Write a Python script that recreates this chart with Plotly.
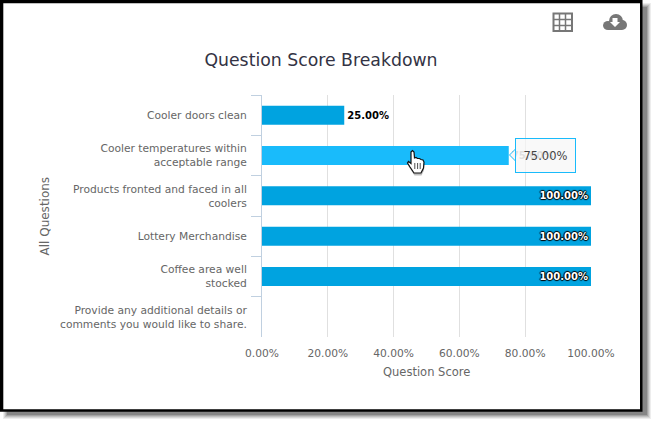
import plotly.graph_objects as go

WIDTH, HEIGHT = 657, 427
PLOT_L, PLOT_R, PLOT_T, PLOT_B = 262, 591, 95, 337

categories = [
    "Cooler doors clean",
    "Cooler temperatures within<br>acceptable range",
    "Products fronted and faced in all<br>coolers",
    "Lottery Merchandise",
    "Coffee area well<br>stocked",
    "Provide any additional details or<br>comments you would like to share.",
]
scores = [25, 75, 100, 100, 100, None]
bar_colors = ["#00A3E0", "#19BBFB", "#00A3E0", "#00A3E0", "#00A3E0", "#00A3E0"]
label_positions = ["outside", "outside", "inside", "inside", "inside", "none"]
label_colors = ["#000000", "#a8a8a8", "#ffffff", "#ffffff", "#ffffff", "#000000"]
DARK_OUTLINE = "1px 0 1px #000, -1px 0 1px #000, 0 1px 1px #000, 0 -1px 1px #000"
label_shadows = ["0px 0px 2px #ffffff", "none", DARK_OUTLINE, DARK_OUTLINE, DARK_OUTLINE, "none"]
x_ticks = [0, 20, 40, 60, 80, 100]
x_tick_labels = ["0.00%", "20.00%", "40.00%", "60.00%", "80.00%", "100.00%"]
hovered_label = "75.00%"


def px(x):
    return (x - PLOT_L) / (PLOT_R - PLOT_L)


def py(y):
    return (PLOT_B - y) / (PLOT_B - PLOT_T)


def path(points, close=True):
    """SVG polygon path from page-pixel points, in paper coordinates."""
    body = " L ".join(f"{px(x):.5f},{py(y):.5f}" for x, y in points)
    return "M " + body + (" Z" if close else "")


def rect(x0, y0, x1, y1, **style):
    return dict(type="rect", xref="paper", yref="paper",
                x0=px(x0), x1=px(x1), y0=py(y0), y1=py(y1), **style)


shapes = []

# Soft drop shadow behind the framed panel
for grow, alpha in [(5, 0.07), (4, 0.09), (3, 0.11), (2, 0.14), (1, 0.18)]:
    shapes.append(rect(8 - grow, 8 - grow, 646 + grow, 414 + grow,
                       fillcolor=f"rgba(0,0,0,{alpha})", line_width=0, layer="below"))

# Black frame with white interior
shapes.append(rect(-1, -3, 642.5, 411.7, fillcolor="#000000", line_width=0, layer="below"))
shapes.append(rect(3.3, 3.3, 640, 409.3, fillcolor="#ffffff", line_width=0, layer="below"))

# Table icon
ICON = "#777777"
shapes.append(rect(553.5, 13.5, 572, 31, fillcolor="rgba(0,0,0,0)", line=dict(color=ICON, width=2)))
for gx in (559.5, 565.5):
    shapes.append(dict(type="line", xref="paper", yref="paper", x0=px(gx), x1=px(gx),
                       y0=py(13.5), y1=py(31), line=dict(color=ICON, width=1.5)))
for gy in (19.5, 25.5):
    shapes.append(dict(type="line", xref="paper", yref="paper", x0=px(553.5), x1=px(572),
                       y0=py(gy), y1=py(gy), line=dict(color=ICON, width=1.5)))

# Cloud download icon
for cx0, cy0, cx1, cy1 in [(603, 21, 613, 30), (609, 14, 623, 28), (617, 20, 627, 30)]:
    shapes.append(dict(type="circle", xref="paper", yref="paper", x0=px(cx0), x1=px(cx1),
                       y0=py(cy0), y1=py(cy1), fillcolor=ICON, line_width=0))
shapes.append(rect(608, 24, 622, 30, fillcolor=ICON, line_width=0))
shapes.append(dict(type="path", xref="paper", yref="paper", line_width=0, fillcolor="#ffffff",
                   path=path([(612.5, 18), (617.5, 18), (617.5, 22), (620, 22), (615, 27), (610, 22), (612.5, 22)])))

# Tooltip pointer
shapes.append(dict(type="path", xref="paper", yref="paper", fillcolor="#f7f7f7",
                   line=dict(color="#19BBFB", width=1),
                   path=path([(515.5, 149), (509.5, 155), (515.5, 161)], close=False)))

# Hand pointer
hand = [(411, 152), (412.5, 150.5), (414, 152), (414.5, 158), (416, 157.5), (417.5, 158.5),
        (419.5, 158.5), (421, 159.5), (423, 160), (424, 162), (423.5, 168), (421, 173),
        (414, 173), (410, 167), (407.5, 163), (408.5, 161.5), (411, 163.5)]
shapes.append(dict(type="path", xref="paper", yref="paper", fillcolor="rgba(0,0,0,0.25)", line_width=0,
                   path=path([(x + 0.5, y + 2.5) for x, y in hand])))
shapes.append(dict(type="path", xref="paper", yref="paper", fillcolor="#ffffff",
                   line=dict(color="#111111", width=1.2), path=path(hand)))
for hx in (414.8, 417.6, 420.2):
    shapes.append(dict(type="line", xref="paper", yref="paper", x0=px(hx), x1=px(hx),
                       y0=py(163), y1=py(169), line=dict(color="#222222", width=0.8)))

fig = go.Figure(
    go.Bar(
        y=categories,
        x=scores,
        orientation="h",
        width=0.47,
        marker=dict(color=bar_colors, line_width=0),
        text=[None if s is None else f"{s:.2f}%" for s in scores],
        textposition=label_positions,
        insidetextanchor="end",
        constraintext="none",
        cliponaxis=False,
        textangle=0,
        textfont=dict(family="DejaVu Sans", size=10, weight="bold",
                      color=label_colors, shadow=label_shadows),
        hoverinfo="skip",
    )
)

fig.update_layout(
    width=WIDTH,
    height=HEIGHT,
    margin=dict(l=PLOT_L, r=WIDTH - PLOT_R, t=PLOT_T, b=HEIGHT - PLOT_B),
    paper_bgcolor="#ffffff",
    plot_bgcolor="rgba(0,0,0,0)",
    showlegend=False,
    font=dict(family="DejaVu Sans", color="#666666", size=11),
    title=dict(
        text="Question Score Breakdown",
        x=(205 + 437) / 2 / WIDTH,
        xanchor="center",
        y=1 - 60 / HEIGHT,
        yanchor="middle",
        font=dict(family="DejaVu Sans", size=17.3, color="#333344"),
    ),
    shapes=shapes,
    annotations=[
        dict(
            text=hovered_label,
            xref="paper", yref="paper",
            x=px(514.5), y=py(155.5),
            xanchor="left", yanchor="middle",
            showarrow=False,
            width=57, height=31,
            align="center",
            bgcolor="rgba(247,247,247,0.7)",
            bordercolor="#19BBFB",
            borderwidth=1,
            font=dict(family="DejaVu Sans", size=11.5, color="#444444"),
        ),
        dict(
            text="All Questions",
            xref="paper", yref="paper",
            x=px(44), y=py(216.5),
            xanchor="center", yanchor="middle",
            textangle=-90,
            showarrow=False,
            font=dict(family="DejaVu Sans", size=12, color="#666666"),
        ),
        dict(
            text="Question Score",
            xref="paper", yref="paper",
            x=px(426.5), y=py(372),
            xanchor="center", yanchor="middle",
            showarrow=False,
            font=dict(family="DejaVu Sans", size=11.5, color="#666666"),
        ),
    ],
)

fig.update_xaxes(
    range=[0, 100],
    tickvals=x_ticks,
    ticktext=x_tick_labels,
    showgrid=True,
    gridcolor="#e0e0e0",
    gridwidth=1,
    zeroline=False,
    showline=False,
    ticks="",
    ticklabelstandoff=8,
    tickfont=dict(size=10.7, color="#666666"),
)
fig.update_yaxes(
    type="category",
    categoryorder="array",
    categoryarray=categories,
    autorange="reversed",
    showgrid=False,
    zeroline=False,
    showline=True,
    linecolor="#C0D0E0",
    linewidth=1,
    ticks="outside",
    tickson="boundaries",
    ticklen=10,
    tickcolor="#C0D0E0",
    ticklabelstandoff=12,
    tickfont=dict(size=10.7, color="#666666"),
)

fig.write_html("out.html", config=dict(displayModeBar=False))
